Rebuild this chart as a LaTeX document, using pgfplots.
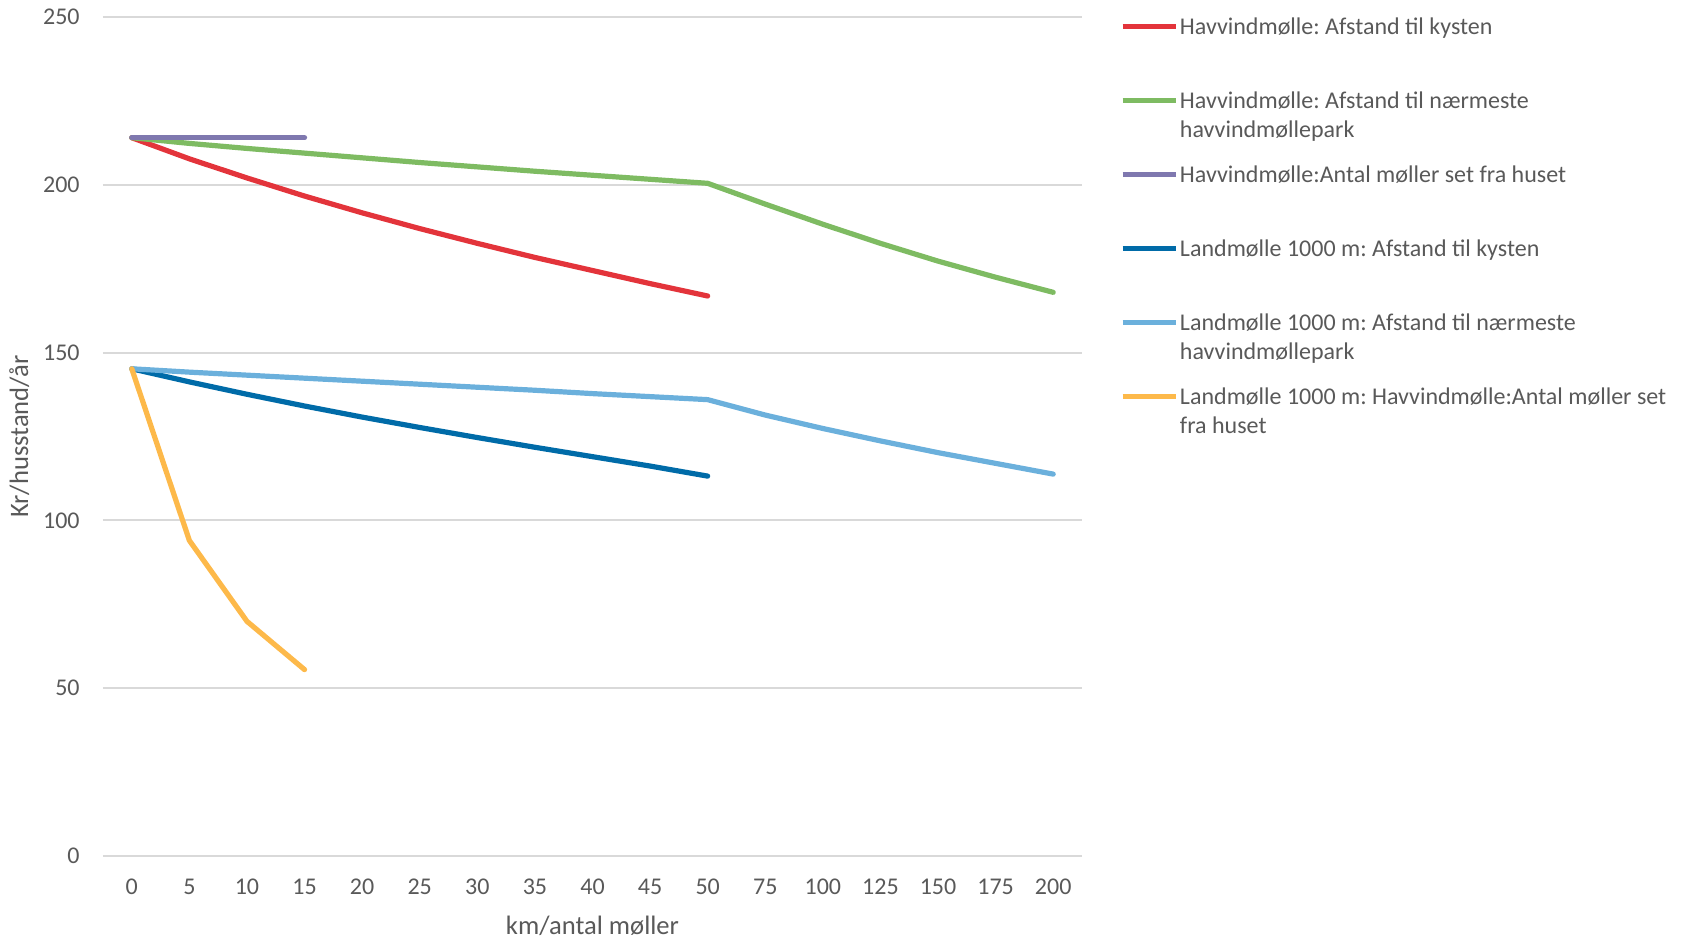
\documentclass[border=0pt]{standalone}
\usepackage{fontspec}
\setmainfont{Carlito}
\usepackage{pgfplots}
\pgfplotsset{compat=1.18}
\definecolor{txt}{HTML}{595959}
\definecolor{gridc}{HTML}{D9D9D9}
\definecolor{cred}{HTML}{E3343B}
\definecolor{cgreen}{HTML}{7EBB62}
\definecolor{cpurple}{HTML}{7F78AF}
\definecolor{cdblue}{HTML}{006BA8}
\definecolor{clblue}{HTML}{6BB0DC}
\definecolor{cyellow}{HTML}{FDB94A}
\frenchspacing
\newcommand\lent[1]{\smash{\parbox[t]{300pt}{\raggedright #1}}}
\begin{document}
\begin{tikzpicture}
\useasboundingbox (-51.5pt,-42.1pt) rectangle (792pt,427.9pt);
\begin{axis}[
  scale only axis,
  width=489.5pt, height=419.25pt,
  xmin=-0.5, xmax=16.5,
  ymin=0, ymax=250,
  xtick={0,...,16},
  xticklabels={0,5,10,15,20,25,30,35,40,45,50,75,100,125,150,175,200},
  ytick={0,50,100,150,200,250},
  ymajorgrids,
  grid style={color=gridc, line width=1pt},
  axis line style={draw=none},
  major tick length=0pt,
  tick style={draw=none},
  /pgf/number format/assume math mode=true,
  ticklabel style={font=\fontsize{12}{14.5}\selectfont, text=txt, inner sep=0pt},
  xticklabel style={anchor=base, yshift=-19.2pt},
  yticklabel style={anchor=east, xshift=-11.5pt},
  xlabel={km/antal møller},
  ylabel={Kr/husstand/år},
  every axis x label/.style={at={(axis description cs:0.5,-0.0935)}, anchor=base,
    font=\fontsize{13.3}{16}\selectfont, text=txt, inner sep=0pt},
  every axis y label/.style={at={(axis description cs:-0.0764,0.5)}, anchor=base, rotate=90,
    font=\fontsize{13.3}{16}\selectfont, text=txt, inner sep=0pt},
  legend cell align=left,
  legend style={at={(axis description cs:1.0388,1.02385)}, anchor=north west,
    draw=none, fill=none, inner sep=0pt, outer sep=0pt,
    row sep=0pt, column sep=0.8pt,
    font=\fontsize{12}{14.5}\selectfont, text=txt,
    nodes={inner sep=0pt, anchor=west, text height=18.5pt, text depth=18.5pt}},
  legend image code/.code={\draw[#1, line cap=butt] (0pt,3.86pt) -- (26.6pt,3.86pt);},
  every axis plot/.append style={line width=2.6pt, line cap=round, line join=round, no markers},
]
\addplot[cred] coordinates {(0,214.1)(1,207.8)(2,202.1)(3,196.7)(4,191.7)(5,187.0)(6,182.6)(7,178.4)(8,174.5)(9,170.6)(10,166.9)};
\addlegendentry{\lent{Havvindmølle: Afstand til kysten}}
\addplot[cgreen] coordinates {(0,214.1)(1,212.4)(2,210.9)(3,209.5)(4,208.1)(5,206.7)(6,205.4)(7,204.1)(8,202.9)(9,201.7)(10,200.5)(11,194.3)(12,188.3)(13,182.6)(14,177.3)(15,172.5)(16,168.0)};
\addlegendentry{\lent{Havvindmølle: Afstand til nærmeste\\havvindmøllepark}}
\addplot[cpurple] coordinates {(0,214.1)(1,214.1)(2,214.1)(3,214.1)};
\addlegendentry{\lent{Havvindmølle:Antal møller set fra huset}}
\addplot[cdblue] coordinates {(0,145.2)(1,141.3)(2,137.6)(3,134.1)(4,130.8)(5,127.7)(6,124.7)(7,121.8)(8,119.0)(9,116.2)(10,113.2)};
\addlegendentry{\lent{Landmølle 1000 m: Afstand til kysten}}
\addplot[clblue] coordinates {(0,145.2)(1,144.2)(2,143.3)(3,142.4)(4,141.5)(5,140.6)(6,139.7)(7,138.8)(8,137.8)(9,136.9)(10,136.0)(11,131.4)(12,127.4)(13,123.7)(14,120.2)(15,117.0)(16,113.8)};
\addlegendentry{\lent{Landmølle 1000 m: Afstand til nærmeste\\havvindmøllepark}}
\addplot[cyellow] coordinates {(0,145.2)(1,94.0)(2,69.9)(3,55.5)};
\addlegendentry{\lent{Landmølle 1000 m: Havvindmølle:Antal møller set\\fra huset}}
\end{axis}
\end{tikzpicture}
\end{document}
